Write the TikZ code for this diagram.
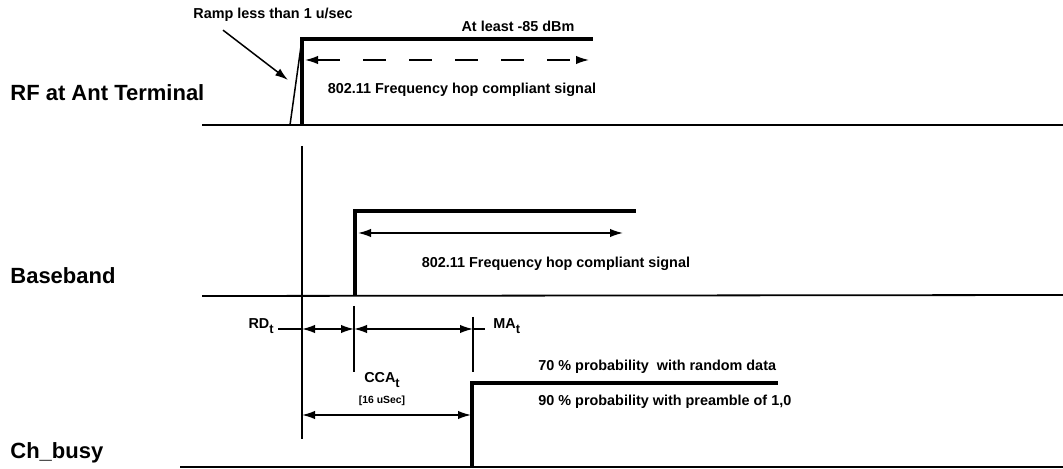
\documentclass[tikz,border=0pt]{standalone}
\usepackage{fontspec}
\setmainfont{Liberation Sans}
\usetikzlibrary{arrows.meta,positioning,calc}

\newcommand{\subt}[1]{#1\raisebox{-0.6ex}{\fontsize{6.4}{6}\selectfont t}}

\begin{document}
\begin{tikzpicture}[>={Latex[length=6.5pt,width=4.2pt]},x=0.5pt,y=-0.5pt,
  every node/.style={font=\bfseries\fontsize{7.2}{8}\selectfont,inner sep=0pt},
  track/.style={font=\bfseries\fontsize{11}{13}\selectfont,anchor=base west},
  sig/.style={line width=2pt},
  base/.style={line width=0.9pt},
  thin/.style={line width=0.75pt}]
  \useasboundingbox (0,0) rectangle (1063,469);

  % track names
  \node[track] (rf) at (10,101) {RF at Ant Terminal};
  \node[track] (bb) at (10,284) {Baseband};
  \node[track] (cb) at (10,458) {Ch\_busy};

  % RF at antenna
  \coordinate (rfL) at (202,125);
  \coordinate (rfR) at (1063,125);
  \coordinate (rfS) at (302,125);
  \coordinate (rfT) at (302,39);
  \coordinate (rfE) at (593,39);
  \coordinate (rampA) at (290,125);
  \draw[base] (rfL) -- (rfR);
  \draw[thin] (rampA) -- (rfT);
  \draw[sig] (rfS) -- (rfT) -- (rfE);
  \draw[thin,<->,dash pattern=on 11.5pt off 11.5pt] (305,60) coordinate (dl) -- (589,60) coordinate (dr);

  \node (ramp) at (273,15) {Ramp less than 1 u/sec};
  \coordinate (rampP) at (288,80);
  \draw[thin,->] (ramp.south west) ++(30,8) coordinate (rampQ) -- (rampP);
  \node (dbm) at (518,26) {At least -85 dBm};
  \node (rfsig) at (462,90) {802.11 Frequency hop compliant signal};

  % common time mark
  \coordinate (t0top) at (302,146);
  \coordinate (t0bot) at (302,439);
  \draw[thin] (t0top) -- (t0bot);

  % baseband
  \coordinate (bbL) at (202,296);
  \coordinate (bbR) at (1063,295);
  \coordinate (bbS) at (355,296);
  \coordinate (bbT) at (355,211);
  \coordinate (bbE) at (636,211);
  \draw[base] (bbL) -- (bbR);
  \draw[sig] (bbS) -- (bbT) -- (bbE);
  \draw[thin,<->] (358,233) coordinate (bl) -- (623,233) coordinate (br);
  \node (bbsig) at (556,264) {802.11 Frequency hop compliant signal};

  % timing marks
  \coordinate (ccaTop) at (354,306);
  \coordinate (ccaBot) at (354,372);
  \coordinate (maTop) at (473,317);
  \coordinate (maBot) at (473,372);
  \draw[thin] (ccaTop) -- (ccaBot);
  \draw[thin] (maTop) -- (maBot);

  \node[anchor=east] (rd) at (274,326) {\subt{RD}};
  \node[anchor=west] (ma) at (493,326) {\subt{MA}};
  \coordinate (r0) at (302,329);
  \coordinate (r1) at (354,329);
  \coordinate (r2) at (473,329);
  \draw[thin] (rd.east |- r0) ++(4,0) -- (r0);
  \draw[thin,<->] (r0) -- (r1);
  \draw[thin,<->] (r1) -- (r2);
  \draw[thin] (r2) -- ++(12,0);

  \node (cca) at (382,380) {\subt{CCA}};
  \node[font=\bfseries\fontsize{5.2}{6}\selectfont] (us) at (382,401) {[16 uSec]};
  \coordinate (c0) at (302,415);
  \coordinate (c1) at (471,415);
  \draw[thin,<->] (c0) -- (c1);

  % channel busy
  \coordinate (cbL) at (180,467);
  \coordinate (cbR) at (1063,467);
  \coordinate (cbS) at (472,467);
  \coordinate (cbT) at (472,383);
  \coordinate (cbE) at (778,383);
  \draw[line width=1.4pt] (cbL) -- (cbR);
  \draw[sig] (cbS) -- (cbT) -- (cbE);
  \node[anchor=west] (p70) at (538,367) {70 \% probability\ \ with random data};
  \node[anchor=west] (p90) at (538,402) {90 \% probability with preamble of 1,0};
\end{tikzpicture}
\end{document}
